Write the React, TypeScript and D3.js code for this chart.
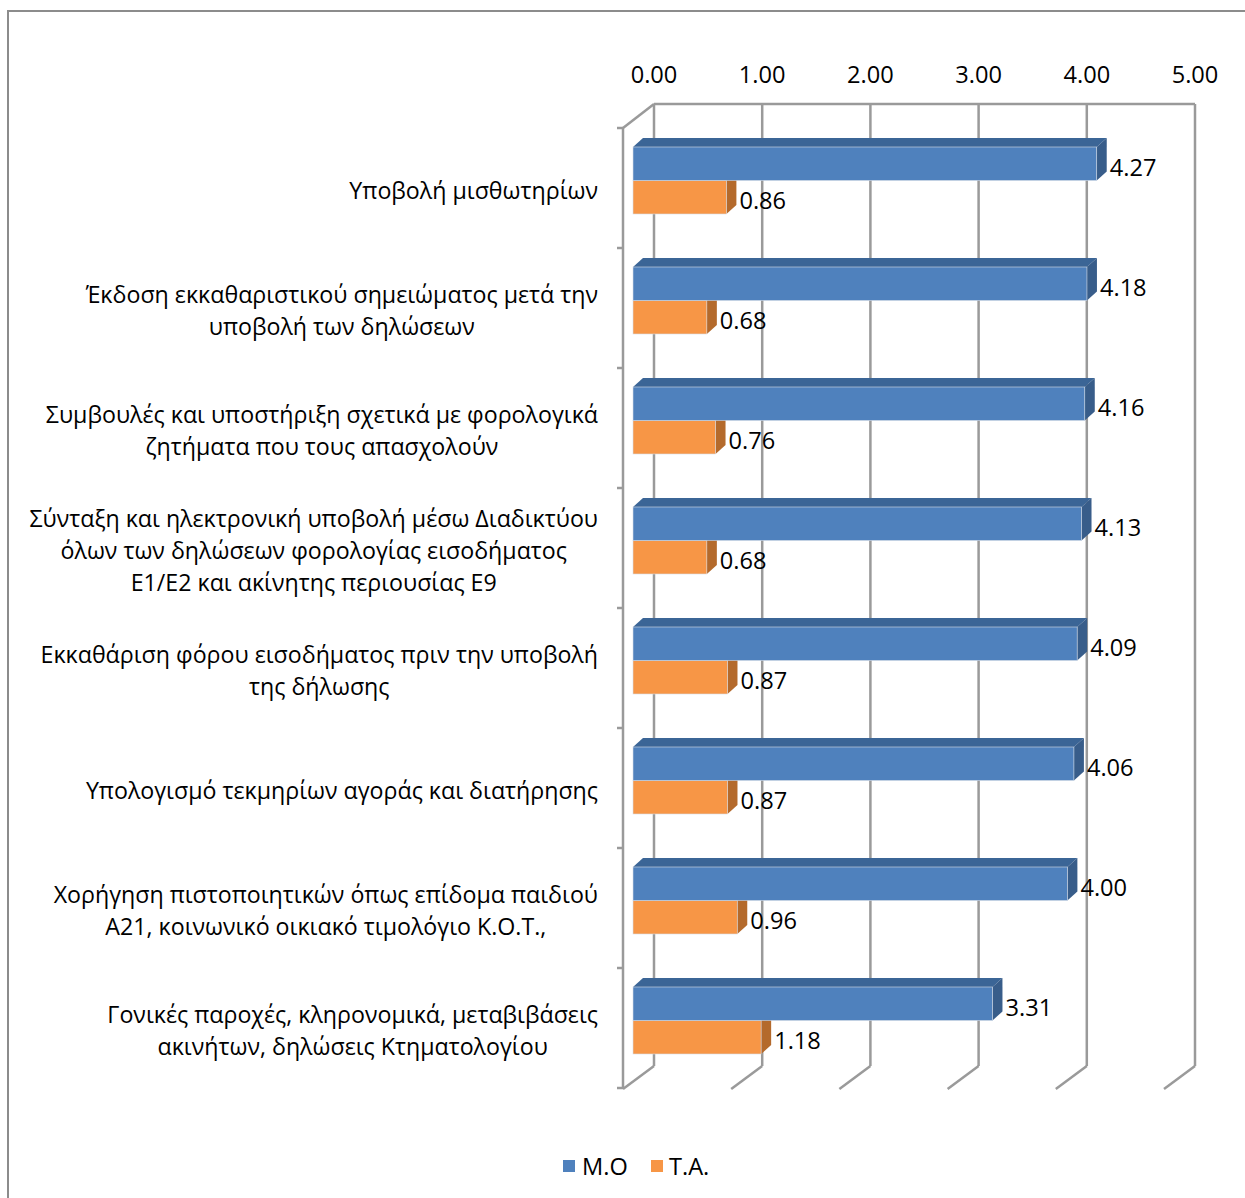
import React from "react";
import * as d3 from "d3";

const categories: string[][] = [
  ["Υποβολή μισθωτηρίων"],
  ["Έκδοση εκκαθαριστικού σημειώματος μετά την", "υποβολή των δηλώσεων"],
  ["Συμβουλές και υποστήριξη σχετικά με φορολογικά", "ζητήματα που τους απασχολούν"],
  ["Σύνταξη και ηλεκτρονική υποβολή μέσω Διαδικτύου", "όλων των δηλώσεων φορολογίας εισοδήματος", "Ε1/Ε2 και ακίνητης περιουσίας Ε9"],
  ["Εκκαθάριση φόρου εισοδήματος πριν την υποβολή", "της δήλωσης"],
  ["Υπολογισμό τεκμηρίων αγοράς και διατήρησης"],
  ["Χορήγηση πιστοποιητικών όπως επίδομα παιδιού", "Α21, κοινωνικό οικιακό τιμολόγιο Κ.Ο.Τ.,"],
  ["Γονικές παροχές, κληρονομικά, μεταβιβάσεις", "ακινήτων, δηλώσεις Κτηματολογίου"],
];
const moValues = [4.27, 4.18, 4.16, 4.13, 4.09, 4.06, 4.0, 3.31];
const taValues = [0.86, 0.68, 0.76, 0.68, 0.87, 0.87, 0.96, 1.18];
const tickValues = [0, 1, 2, 3, 4, 5];
const seriesNames = ["M.O", "T.A."];

const FONT = "'Open Sans', 'Noto Sans', sans-serif";
const GRID = "#9a9a9a";
const CAT_FS = 23.2;
const NUM_FS = 23.6;

let measureCtx: CanvasRenderingContext2D | null = null;
function textWidth(s: string, fs: number): number {
  if (!measureCtx) {
    const c = document.createElement("canvas");
    measureCtx = c.getContext("2d");
  }
  if (!measureCtx) return s.length * fs * 0.52;
  measureCtx.font = `${fs}px 'Open Sans'`;
  return measureCtx.measureText(s).width;
}

export default function App() {
  const idx = categories.map((_, i) => i);
  const xBack = d3.scaleLinear().domain([0, 5]).range([654, 1195]);
  const xBar = d3.scaleLinear().domain([0, 5]).range([633, 633 + 543]);
  const y = d3.scaleBand<number>().domain(idx).range([128, 1088]).padding(0);
  const wallTop = 104;
  const wallBottom = 1066;
  const depthX = 31;
  const depthY = 23;
  const frontLeft = 623;
  const bdx = 10;
  const bdy = 9;
  const barH = 33.5;
  const labelRight = 598;

  const bar = (x0: number, x1: number, y0: number, h: number, front: string, top: string, side: string, key: string) => (
    <g key={key}>
      <polygon points={`${x0},${y0} ${x0 + bdx},${y0 - bdy} ${x1 + bdx},${y0 - bdy} ${x1},${y0}`} fill={top} />
      <polygon points={`${x1},${y0} ${x1 + bdx},${y0 - bdy} ${x1 + bdx},${y0 + h - bdy} ${x1},${y0 + h}`} fill={side} />
      <rect x={x0} y={y0} width={x1 - x0} height={h} fill={front} stroke="#d6dce6" strokeWidth={0.6} />
    </g>
  );

  return (
    <svg width={1245} height={1198} style={{ position: "absolute", left: 0, top: 0, background: "#fff" }} fontFamily={FONT}>
      <rect x={8} y={11} width={1300} height={1300} fill="#fff" stroke="#8c8c8c" strokeWidth={2} />
      {tickValues.map((t) => (
        <line key={"g" + t} x1={xBack(t)} x2={xBack(t)} y1={wallTop} y2={wallBottom} stroke={GRID} strokeWidth={2.5} />
      ))}
      <line x1={xBack(0)} x2={xBack(5)} y1={wallTop} y2={wallTop} stroke={GRID} strokeWidth={2.5} />
      {tickValues.map((t) => (
        <line key={"f" + t} x1={xBack(t)} x2={xBack(t) - depthX} y1={wallBottom} y2={wallBottom + depthY} stroke={GRID} strokeWidth={2.5} />
      ))}
      <line x1={frontLeft} x2={xBack(0)} y1={wallTop + depthY + 1} y2={wallTop} stroke={GRID} strokeWidth={2.5} />
      <line x1={frontLeft} x2={frontLeft} y1={wallTop + depthY + 1} y2={wallBottom + depthY} stroke={GRID} strokeWidth={2.5} />
      {idx.concat([idx.length]).map((i) => {
        const yy = i < idx.length ? (y(i) as number) : y.range()[1];
        return <line key={"t" + i} x1={frontLeft - 6} x2={frontLeft} y1={yy} y2={yy} stroke={GRID} strokeWidth={2.5} />;
      })}
      {tickValues.map((t) => (
        <text key={"tl" + t} x={xBack(t)} y={74} textAnchor="middle" dominantBaseline="central" fontSize={NUM_FS} fill="#000">
          {t.toFixed(2)}
        </text>
      ))}
      {idx.map((i) => {
        const y0 = (y(i) as number) + 19;
        return (
          <g key={"b" + i}>
            {bar(xBar(0), xBar(taValues[i]), y0 + barH, barH, "#f79646", "#d9823c", "#b46a2c", "ta")}
            {bar(xBar(0), xBar(moValues[i]), y0, barH, "#4f81bd", "#3b6596", "#385d8a", "mo")}
            <text x={xBar(moValues[i]) + bdx + 3} y={y0 + barH / 2 + 3} dominantBaseline="central" fontSize={NUM_FS} fill="#000">
              {moValues[i].toFixed(2)}
            </text>
            <text x={xBar(taValues[i]) + bdx + 3} y={y0 + barH * 1.5 + 3} dominantBaseline="central" fontSize={NUM_FS} fill="#000">
              {taValues[i].toFixed(2)}
            </text>
          </g>
        );
      })}
      {idx.map((i) => {
        const lines = categories[i];
        const cy = (y(i) as number) + y.bandwidth() / 2 + 1.5;
        const lh = 32;
        const maxW = Math.max(...lines.map((l) => textWidth(l, CAT_FS)));
        const cx = labelRight - maxW / 2;
        return (
          <text key={"c" + i} fontSize={CAT_FS} fill="#000" textAnchor="middle">
            {lines.map((l, j) => (
              <tspan key={j} x={cx} y={cy + (j - (lines.length - 1) / 2) * lh} dominantBaseline="central">
                {l}
              </tspan>
            ))}
          </text>
        );
      })}
      <rect x={563} y={1160} width={12} height={12} fill="#4f81bd" />
      <text x={582} y={1166} dominantBaseline="central" fontSize={NUM_FS} fill="#000">{seriesNames[0]}</text>
      <rect x={651} y={1160} width={12} height={12} fill="#f79646" />
      <text x={669} y={1166} dominantBaseline="central" fontSize={NUM_FS} fill="#000">{seriesNames[1]}</text>
    </svg>
  );
}
